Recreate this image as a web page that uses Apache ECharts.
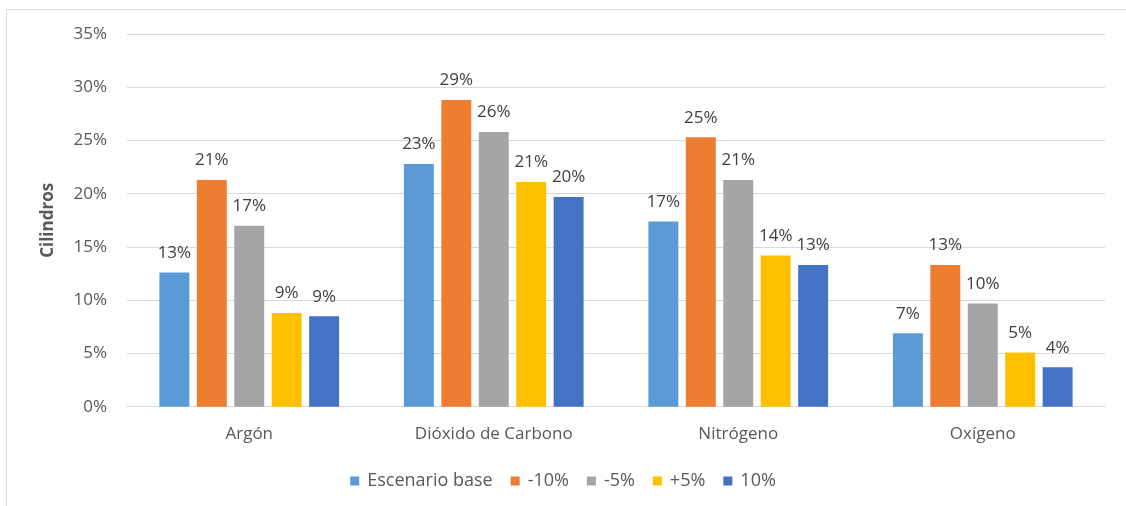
<!DOCTYPE html>
<html>
<head>
<meta charset="utf-8">
<script src="https://cdn.jsdelivr.net/npm/echarts@6/dist/echarts.min.js"></script>
<style>
  html, body { margin: 0; padding: 0; background: #fff; overflow: hidden; }
  #frame { position: absolute; left: 6px; top: 9px; width: 1200px; height: 600px;
           border-top: 1px solid #D9D9D9; border-left: 1px solid #D9D9D9; }
  #chart { position: absolute; left: 0; top: 0; width: 1126px; height: 506px; }
</style>
</head>
<body>
<div id="frame"></div>
<div id="chart"></div>
<script>
// Gases and scenarios
const categories = ['Argón', 'Dióxido de Carbono', 'Nitrógeno', 'Oxígeno'];
const seriesNames = ['Escenario base', '-10%', '-5%', '+5%', '10%'];
const colors = ['#5B9BD5', '#ED7D31', '#A5A5A5', '#FFC000', '#4472C4'];

// Share of cylinders (%) per gas, one array per scenario
const escenarioBase = [12.6, 22.8, 17.4, 6.9];
const menos10 = [21.3, 28.8, 25.3, 13.3];
const menos5 = [17.0, 25.8, 21.3, 9.7];
const mas5 = [8.8, 21.1, 14.2, 5.1];
const mas10 = [8.5, 19.7, 13.3, 3.7];

const values = [escenarioBase, menos10, menos5, mas5, mas10];

const FONT = 'Open Sans';
const chart = echarts.init(document.getElementById('chart'), null, { renderer: 'canvas' });

chart.setOption({
  animation: false,
  textStyle: { fontFamily: FONT },
  grid: { left: 127, right: 21, top: 34, bottom: 99.3 },
  legend: {
    data: seriesNames,
    bottom: 11,
    left: 'center',
    itemWidth: 9,
    itemHeight: 9,
    itemGap: 18,
    icon: 'rect',
    textStyle: { fontFamily: FONT, fontSize: 18, color: '#595959', padding: [0, 0, 0, 3] }
  },
  xAxis: {
    type: 'category',
    data: categories,
    axisLine: { lineStyle: { color: '#D9D9D9', width: 1 } },
    axisTick: { show: false },
    axisLabel: { fontFamily: FONT, fontSize: 17, color: '#595959', margin: 19 }
  },
  yAxis: {
    type: 'value',
    min: 0,
    max: 35,
    interval: 5,
    name: 'Cilindros',
    nameLocation: 'middle',
    nameGap: 70,
    nameTextStyle: { fontFamily: FONT, fontSize: 17, fontWeight: 'bold', color: '#595959' },
    axisLine: { show: false },
    axisTick: { show: false },
    axisLabel: { fontFamily: FONT, fontSize: 17, color: '#595959', margin: 20, formatter: '{value}%' },
    splitLine: { lineStyle: { color: '#D9D9D9', width: 1 } }
  },
  series: seriesNames.map((name, i) => ({
    name: name,
    type: 'bar',
    data: values[i],
    barGap: '25%',
    barCategoryGap: '26.5%',
    itemStyle: { color: colors[i] },
    label: {
      show: true,
      position: 'top',
      distance: 11,
      fontFamily: FONT,
      fontSize: 17,
      color: '#404040',
      formatter: p => Math.round(p.value) + '%'
    }
  }))
});
</script>
</body>
</html>
